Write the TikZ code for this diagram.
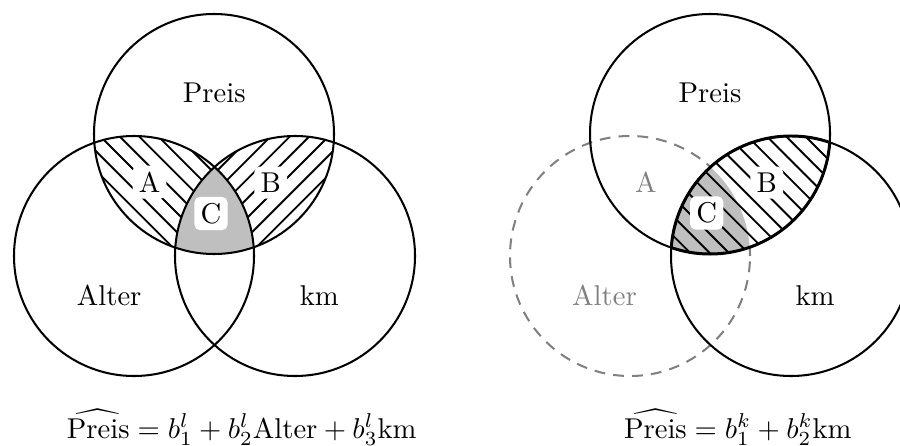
\RequirePackage{fix-cm}
\documentclass[tikz,border=0pt]{standalone}
\usepackage{amsmath}
\begin{document}
\begin{tikzpicture}[x=0.37pt,y=-0.37pt,
  font=\fontsize{10.6}{12.7}\selectfont,
  circ/.style={line width=0.75pt},
  lensline/.style={line width=1.1pt},
  hatch/.style={line width=0.7pt},
  dashcirc/.style={line width=0.75pt, gray, dash pattern=on 4pt off 3pt},
  lab/.style={anchor=base, inner sep=0pt},
  boxlab/.style={anchor=base, fill=white, rounded corners=2pt, inner sep=2.3pt},
  greylab/.style={anchor=base, inner sep=0pt, text=gray}]
\useasboundingbox (0,0) rectangle (900,446);
\def\R{44.4pt}
% ---------------- left diagram ----------------
\coordinate (LP) at (214,134);
\coordinate (LA) at (134,256);
\coordinate (LK) at (295,256);
% A region hatch (Preis & Alter)
\begin{scope}
  \clip (LP) circle[radius=\R];
  \clip (LA) circle[radius=\R];
  \foreach \k in {-30,...,30} \draw[hatch] ({-16.7+19.3*\k},0) -- ++(446,446);
\end{scope}
% B region hatch (Preis & km)
\begin{scope}
  \clip (LP) circle[radius=\R];
  \clip (LK) circle[radius=\R];
  \foreach \k in {-30,...,30} \draw[hatch] ({445.7+19.3*\k},0) -- ++(-446,446);
\end{scope}
% C region
\begin{scope}
  \clip (LP) circle[radius=\R];
  \clip (LA) circle[radius=\R];
  \fill[lightgray] (LK) circle[radius=\R];
\end{scope}
\draw[circ] (LP) circle[radius=\R];
\draw[circ] (LA) circle[radius=\R];
\draw[circ] (LK) circle[radius=\R];
\node[lab] (lPreis) at (214.2,102.7) {Preis};
\node[lab] (lAlter) at (109.2,305) {Alter};
\node[lab] (lkm) at (319.3,305) {km};
\node[boxlab] (lA) at (149.5,192.3) {A};
\node[boxlab] (lB) at (270.8,192.3) {B};
\node[boxlab] (lC) at (211,223.3) {C};
\node[anchor=base] (lform) at (241.7,438) {$\widehat{\text{Preis}} = b^l_1 + b^l_2\text{Alter} + b^l_3\text{km}$};
% ---------------- right diagram ----------------
\coordinate (RP) at (710,134);
\coordinate (RA) at (630,256);
\coordinate (RK) at (791,256);
\draw[dashcirc] (RA) circle[radius=\R];
\begin{scope}
  \clip (RP) circle[radius=\R];
  \fill[white] (RK) circle[radius=\R];
  \begin{scope}
    \clip (RK) circle[radius=\R];
    \fill[lightgray] (RA) circle[radius=\R];
  \end{scope}
  \begin{scope}
    \clip (RK) circle[radius=\R];
    \foreach \k in {-30,...,30} \draw[hatch] ({649.7+19.3*\k},0) -- ++(446,446);
  \end{scope}
\end{scope}
\draw[circ] (RP) circle[radius=\R];
\draw[circ] (RK) circle[radius=\R];
\begin{scope}
  \clip (RP) circle[radius=\R];
  \draw[lensline] (RK) circle[radius=\R];
\end{scope}
\begin{scope}
  \clip (RK) circle[radius=\R];
  \draw[lensline] (RP) circle[radius=\R];
\end{scope}
\node[lab] (rPreis) at (710,102.7) {Preis};
\node[greylab] (rAlter) at (604.5,305) {Alter};
\node[lab] (rkm) at (815,305) {km};
\node[greylab] (rA) at (645.8,192.3) {A};
\node[boxlab] (rB) at (766.7,192.3) {B};
\node[boxlab] (rC) at (706.7,222.7) {C};
\node[anchor=base] (rform) at (737.8,438) {$\widehat{\text{Preis}} = b^k_1 + b^k_2\text{km}$};
\end{tikzpicture}
\end{document}
